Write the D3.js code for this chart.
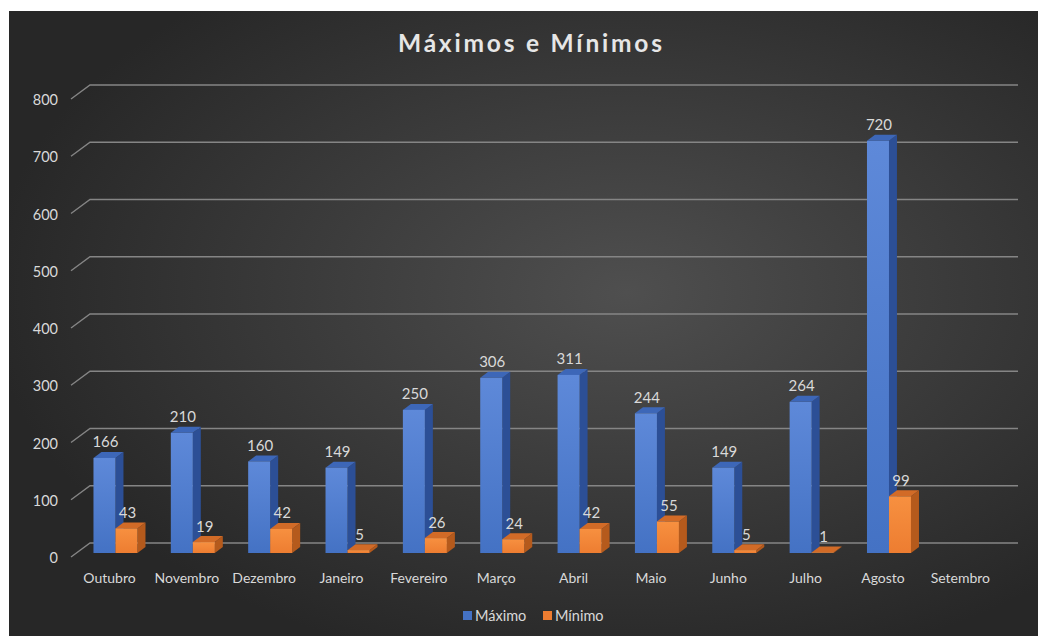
<!DOCTYPE html>
<html>
<head>
<meta charset="utf-8">
<script src="https://cdn.jsdelivr.net/npm/d3@7"></script>
<style>
  html, body { margin: 0; padding: 0; background: #ffffff; }
  svg { display: block; }
</style>
</head>
<body>
<svg id="chart" width="1038" height="636"></svg>
<script>
// Monthly maximum and minimum values
const months = ["Outubro", "Novembro", "Dezembro", "Janeiro", "Fevereiro", "Março",
                "Abril", "Maio", "Junho", "Julho", "Agosto", "Setembro"];
const maximo = [166, 210, 160, 149, 250, 306, 311, 244, 149, 264, 720, null];
const minimo = [43, 19, 42, 5, 26, 24, 42, 55, 5, 1, 99, null];
const yTicks = [0, 100, 200, 300, 400, 500, 600, 700, 800];
const seriesNames = ["Máximo", "Mínimo"];

const W = 1038, H = 636;
const svg = d3.select("#chart");
const font = "Lato, 'Open Sans', sans-serif";

const defs = svg.append("defs");

// Dark radial background of the chart area
const bg = defs.append("radialGradient").attr("id", "bgGrad")
  .attr("cx", "60%").attr("cy", "45%").attr("r", "62%");
bg.append("stop").attr("offset", "0%").attr("stop-color", "#4f4f4f");
bg.append("stop").attr("offset", "100%").attr("stop-color", "#272727");

svg.append("rect").attr("x", 9).attr("y", 11).attr("width", W - 9).attr("height", H - 11)
  .attr("fill", "url(#bgGrad)");

// Bar face shading
const palettes = [
  { front: ["#5e89d9", "#4472c4"], side: "#2c4f96", top: "#3d67b8" },
  { front: ["#f79040", "#ed7d31"], side: "#b55a1c", top: "#d26b27" }
];
palettes.forEach((p, i) => {
  const g = defs.append("linearGradient").attr("id", "front" + i)
    .attr("x1", 0).attr("y1", 0).attr("x2", 0).attr("y2", 1);
  g.append("stop").attr("offset", "0%").attr("stop-color", p.front[0]);
  g.append("stop").attr("offset", "100%").attr("stop-color", p.front[1]);
});

// Scales: y maps values onto the front plane of the bars
const y = d3.scaleLinear().domain([0, 800]).range([553, 95]);
const x = d3.scaleBand().domain(months).range([76.8, 1005]).paddingInner(0).paddingOuter(0);
const barW = 22;
const depthX = 8, depthY = 6;        // bar extrusion
const gridBackDy = -10, gridFrontDy = 4;
const gridFrontX = 71, gridBackX = 90, gridEndX = 1018;

// Gridlines with slanted left wall edge
const grid = svg.append("g");
yTicks.forEach(t => {
  grid.append("path")
    .attr("d", `M${gridFrontX},${y(t) + gridFrontDy} L${gridBackX},${y(t) + gridBackDy} L${gridEndX},${y(t) + gridBackDy}`)
    .attr("fill", "none").attr("stroke", "#858585").attr("stroke-width", 1.4);
});

// Y axis labels
const yAxis = d3.axisLeft(y).tickValues(yTicks).tickSize(0).tickPadding(0);
const yg = svg.append("g").attr("transform", "translate(58,5)").call(yAxis);
yg.select(".domain").remove();
yg.selectAll("text").attr("fill", "#d9d9d9").attr("font-family", font).attr("font-size", 14.5);

// 3D bars
const series = [maximo, minimo];
const barsG = svg.append("g");
months.forEach((m, i) => {
  const center = x(m) + x.bandwidth() / 2;
  series.forEach((vals, s) => {
    const v = vals[i];
    if (v == null) return;
    const x0 = center - barW + s * barW;
    const x1 = x0 + barW;
    const yt = y(v), yb = y(0);
    const p = palettes[s];
    // side face
    barsG.append("path")
      .attr("d", `M${x1},${yt} L${x1 + depthX},${yt - depthY} L${x1 + depthX},${yb - depthY} L${x1},${yb} Z`)
      .attr("fill", p.side);
    // top face
    barsG.append("path")
      .attr("d", `M${x0},${yt} L${x0 + depthX},${yt - depthY} L${x1 + depthX},${yt - depthY} L${x1},${yt} Z`)
      .attr("fill", p.top);
    // front face
    barsG.append("rect")
      .attr("x", x0).attr("y", yt).attr("width", barW).attr("height", Math.max(0, yb - yt))
      .attr("fill", `url(#front${s})`);
    // value label
    barsG.append("text")
      .attr("x", x0 + barW / 2 + 1).attr("y", yt - 10.5)
      .attr("text-anchor", "middle")
      .attr("fill", "#d9d9d9").attr("font-family", font).attr("font-size", 15)
      .text(v);
  });
});

// Category labels
const xAxis = d3.axisBottom(x).tickSize(0).tickPadding(0);
const xg = svg.append("g").attr("transform", "translate(-6,583)").call(xAxis);
xg.select(".domain").remove();
xg.selectAll("text").attr("fill", "#d9d9d9").attr("font-family", font).attr("font-size", 14)
  .attr("dy", null).attr("dominant-baseline", "auto");

// Title
svg.append("text")
  .attr("x", 530).attr("y", 52)
  .attr("text-anchor", "middle")
  .attr("fill", "#e6e6e6").attr("font-family", font).attr("font-weight", "bold")
  .attr("font-size", 24.5)
  .attr("textLength", 264).attr("lengthAdjust", "spacing")
  .text("Máximos e Mínimos");

// Legend
const legend = svg.append("g");
const legendX = [463, 543];
seriesNames.forEach((name, s) => {
  legend.append("rect").attr("x", legendX[s]).attr("y", 611).attr("width", 9).attr("height", 9)
    .attr("fill", palettes[s].front[1]);
  legend.append("text").attr("x", legendX[s] + 12).attr("y", 621)
    .attr("fill", "#d9d9d9").attr("font-family", font).attr("font-size", 14.5)
    .text(name);
});
</script>
</body>
</html>
